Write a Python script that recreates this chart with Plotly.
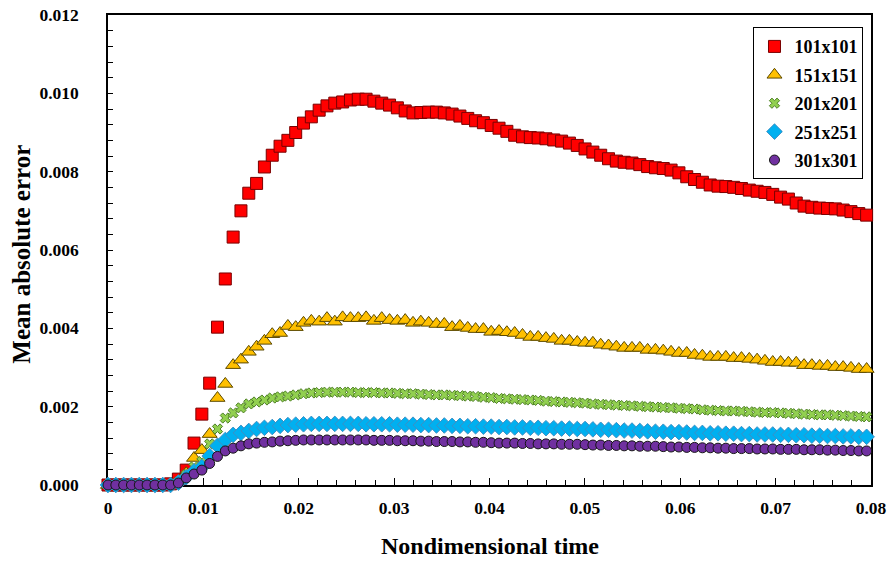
import plotly.graph_objects as go

time = [0, 0.00082, 0.00164, 0.00246, 0.00328, 0.0041, 0.00492, 0.00574, 0.00656, 0.00738,
        0.0082, 0.00902, 0.00984, 0.01066, 0.01148, 0.0123, 0.01312, 0.01394, 0.01476, 0.01558,
        0.0164, 0.01722, 0.01804, 0.01886, 0.01968, 0.0205, 0.02132, 0.02214, 0.02296, 0.02378,
        0.0246, 0.02542, 0.02624, 0.02706, 0.02788, 0.0287, 0.02952, 0.03034, 0.03116, 0.03198,
        0.0328, 0.03362, 0.03444, 0.03526, 0.03608, 0.0369, 0.03772, 0.03854, 0.03936, 0.04018,
        0.041, 0.04182, 0.04264, 0.04346, 0.04428, 0.0451, 0.04592, 0.04674, 0.04756, 0.04838,
        0.0492, 0.05002, 0.05084, 0.05166, 0.05248, 0.0533, 0.05412, 0.05494, 0.05576, 0.05658,
        0.0574, 0.05822, 0.05904, 0.05986, 0.06068, 0.0615, 0.06232, 0.06314, 0.06396, 0.06478,
        0.0656, 0.06642, 0.06724, 0.06806, 0.06888, 0.0697, 0.07052, 0.07134, 0.07216, 0.07298,
        0.0738, 0.07462, 0.07544, 0.07626, 0.07708, 0.0779, 0.07872, 0.07954]

err_101 = [0, 0, 0, 0, 0, 0, 0, 0, 0.00003, 0.00015,
           0.00038, 0.00107, 0.00181, 0.0026, 0.00403, 0.00526, 0.00633, 0.0070, 0.00745, 0.0077,
           0.00812, 0.00842, 0.00865, 0.0088, 0.0090, 0.00924, 0.0094, 0.00957, 0.00968, 0.00975,
           0.00978, 0.00983, 0.00985, 0.00985, 0.0098, 0.00975, 0.0097, 0.00963, 0.00955, 0.0095,
           0.00951, 0.00952, 0.00952, 0.0095, 0.00947, 0.00942, 0.00936, 0.0093, 0.00925, 0.00918,
           0.00911, 0.00903, 0.00893, 0.00889, 0.00887, 0.00886, 0.00884, 0.00881, 0.00878, 0.00873,
           0.00867, 0.00858, 0.0085, 0.00842, 0.00833, 0.00827, 0.00824, 0.00822, 0.00818, 0.00813,
           0.0081, 0.00808, 0.00804, 0.00797, 0.00787, 0.0078, 0.00773, 0.00766, 0.00763, 0.00762,
           0.0076, 0.00757, 0.00753, 0.0075, 0.00747, 0.00742, 0.00735, 0.0073, 0.0072, 0.00712,
           0.00709, 0.00707, 0.00706, 0.00705, 0.00702, 0.00698, 0.00693, 0.00689]

err_151 = [0, 0, 0, 0, 0, 0, 0, 0, 0.00002, 0.0001,
           0.0003, 0.00069, 0.00089, 0.0013, 0.00222, 0.00258, 0.00306, 0.0032, 0.0034, 0.00353,
           0.00368, 0.00385, 0.00388, 0.00406, 0.00403, 0.00414, 0.00419, 0.00417, 0.00426, 0.00417,
           0.00428, 0.00426, 0.00426, 0.00428, 0.00419, 0.00426, 0.00421, 0.00419, 0.00421, 0.00414,
           0.00417, 0.00414, 0.00411, 0.00411, 0.00403, 0.00406, 0.00401, 0.00398, 0.00398, 0.00391,
           0.00393, 0.0039, 0.00388, 0.00383, 0.00378, 0.00378, 0.00375, 0.00373, 0.00368, 0.00368,
           0.00365, 0.00363, 0.00363, 0.00358, 0.00356, 0.00353, 0.0035, 0.0035, 0.0035, 0.00345,
           0.00345, 0.00343, 0.0034, 0.00337, 0.00337, 0.00332, 0.0033, 0.00327, 0.00327, 0.00327,
           0.00324, 0.00324, 0.00322, 0.0032, 0.00317, 0.00314, 0.00314, 0.00312, 0.00312, 0.00306,
           0.00306, 0.00304, 0.00304, 0.00301, 0.00301, 0.00299, 0.00296, 0.00296]

err_201 = [0, 0, 0, 0, 0, 0, 0, 0, 0.00001, 0.00008,
           0.00026, 0.00046, 0.0006, 0.00105, 0.00143, 0.00171, 0.00184, 0.00197, 0.00207, 0.00212,
           0.00217, 0.00222, 0.00225, 0.00227, 0.0023, 0.00233, 0.00235, 0.00236, 0.00237, 0.00237,
           0.00237, 0.00237, 0.00236, 0.00236, 0.00236, 0.00235, 0.00235, 0.00234, 0.00233, 0.00233,
           0.00232, 0.00231, 0.0023, 0.0023, 0.00229, 0.00228, 0.00227, 0.00226, 0.00224, 0.00223,
           0.00221, 0.0022, 0.00219, 0.00218, 0.00217, 0.00216, 0.00214, 0.00213, 0.00212, 0.00211,
           0.0021, 0.00209, 0.00207, 0.00206, 0.00205, 0.00204, 0.00203, 0.00202, 0.00201, 0.002,
           0.00199, 0.00198, 0.00197, 0.00196, 0.00195, 0.00194, 0.00192, 0.00191, 0.0019, 0.00189,
           0.00189, 0.00188, 0.00187, 0.00186, 0.00185, 0.00185, 0.00184, 0.00183, 0.00182, 0.00181,
           0.0018, 0.00179, 0.00179, 0.00178, 0.00177, 0.00176, 0.00175, 0.00174]

err_251 = [0, 0, 0, 0, 0, 0, 0, 0, 0, 0.00006,
           0.0002, 0.00035, 0.00046, 0.00074, 0.001, 0.00115, 0.00128, 0.00133, 0.00138, 0.00143,
           0.00146, 0.00148, 0.00151, 0.00153, 0.00154, 0.00155, 0.00156, 0.00156, 0.00156, 0.00156,
           0.00156, 0.00156, 0.00156, 0.00155, 0.00155, 0.00155, 0.00155, 0.00154, 0.00154, 0.00154,
           0.00153, 0.00153, 0.00152, 0.00152, 0.00151, 0.00151, 0.0015, 0.0015, 0.00149, 0.00149,
           0.00148, 0.00148, 0.00147, 0.00147, 0.00146, 0.00146, 0.00145, 0.00145, 0.00144, 0.00144,
           0.00143, 0.00143, 0.00142, 0.00141, 0.00141, 0.0014, 0.00139, 0.00139, 0.00138, 0.00137,
           0.00136, 0.00136, 0.00135, 0.00135, 0.00134, 0.00133, 0.00133, 0.00132, 0.00132, 0.00131,
           0.00131, 0.0013, 0.0013, 0.00129, 0.00129, 0.00129, 0.00128, 0.00128, 0.00127, 0.00127,
           0.00126, 0.00126, 0.00125, 0.00125, 0.00124, 0.00124, 0.00123, 0.00123]

err_301 = [0, 0, 0, 0, 0, 0, 0, 0, 0, 0.00005,
           0.00018, 0.00028, 0.00038, 0.00055, 0.00073, 0.00087, 0.00094, 0.001, 0.00105, 0.00107,
           0.00109, 0.0011, 0.00112, 0.00113, 0.00114, 0.00115, 0.00115, 0.00115, 0.00115, 0.00115,
           0.00115, 0.00115, 0.00115, 0.00115, 0.00114, 0.00114, 0.00114, 0.00113, 0.00113, 0.00113,
           0.00112, 0.00112, 0.00111, 0.00111, 0.00111, 0.0011, 0.0011, 0.00109, 0.00109, 0.00108,
           0.00107, 0.00107, 0.00107, 0.00106, 0.00106, 0.00105, 0.00105, 0.00105, 0.00104, 0.00104,
           0.00104, 0.00103, 0.00102, 0.00102, 0.00101, 0.00101, 0.001, 0.001, 0.00099, 0.00099,
           0.00099, 0.00098, 0.00097, 0.00097, 0.00096, 0.00096, 0.00095, 0.00095, 0.00094, 0.00094,
           0.00093, 0.00093, 0.00093, 0.00092, 0.00092, 0.00092, 0.00091, 0.00091, 0.00091, 0.0009,
           0.0009, 0.0009, 0.00089, 0.00089, 0.00088, 0.00088, 0.00087, 0.00087]

series_names = ["101x101", "151x151", "201x201", "251x251", "301x301"]
series_values = [err_101, err_151, err_201, err_251, err_301]
x_title = "Nondimensional time"
y_title = "Mean absolute error"

styles = [
    dict(symbol="square", size=12, color="#FF0000", line=dict(color="#7A0000", width=1)),
    dict(symbol="triangle-up", size=13, color="#FFC000", line=dict(color="#5C4A00", width=1)),
    dict(symbol="x", size=9, color="#92D050", line=dict(color="#4E7F26", width=1)),
    dict(symbol="diamond", size=12, color="#00B0F0", line=dict(color="#3D8FC4", width=1)),
    dict(symbol="circle", size=10, color="#7030A0", line=dict(color="#151515", width=1)),
]

FONT = "Liberation Serif"

fig = go.Figure()
for name, vals, st in zip(series_names, series_values, styles):
    fig.add_trace(go.Scatter(
        x=time, y=vals, mode="markers", name=name, legendgroup=name,
        marker=st, cliponaxis=False,
    ))

axis_common = dict(
    showline=True, linecolor="black", linewidth=1.5, mirror=True,
    ticks="inside", tickcolor="black", showgrid=False, zeroline=False,
    tickfont=dict(family=FONT, size=17.5, color="black", weight="bold"),
    layer="below traces", automargin=False,
)

fig.update_xaxes(
    range=[0, 0.08], dtick=0.01, tick0=0, ticklen=7, tickwidth=1,
    ticklabelstandoff=6,
    minor=dict(dtick=0.002, ticks="inside", ticklen=5, tickcolor="black", tickwidth=1),
    **axis_common,
)
fig.update_yaxes(
    range=[0, 0.012], dtick=0.002, tick0=0, tickformat=".3f", ticklen=5, tickwidth=1,
    ticklabelstandoff=24,
    minor=dict(dtick=0.0004, ticks="inside", ticklen=5, tickcolor="black", tickwidth=1),
    **axis_common,
)

fig.add_annotation(
    text=x_title, xref="paper", yref="paper", x=0.5007, y=-0.1298,
    xanchor="center", yanchor="middle", showarrow=False,
    font=dict(family=FONT, size=24, color="black", weight="bold"),
)
fig.add_annotation(
    text=y_title, xref="paper", yref="paper", x=-0.1127, y=0.49,
    xanchor="center", yanchor="middle", showarrow=False, textangle=-90,
    font=dict(family=FONT, size=25, color="black", weight="bold"),
)

fig.update_layout(
    width=891, height=561,
    margin=dict(l=108, r=20, t=15, b=76),
    paper_bgcolor="white", plot_bgcolor="white",
    showlegend=True,
    legend=dict(
        x=0.846, y=0.974, xanchor="left", yanchor="top",
        bgcolor="white", bordercolor="black", borderwidth=1,
        font=dict(family=FONT, size=18, color="black", weight="bold"),
        tracegroupgap=2, itemwidth=30,
    ),
)

fig.write_html("out.html")
